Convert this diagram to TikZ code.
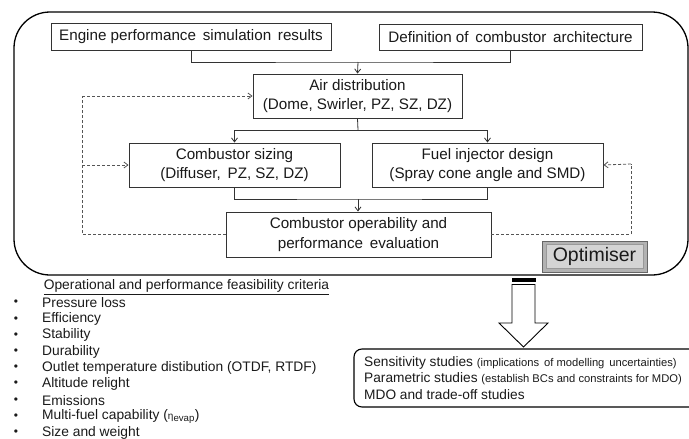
\documentclass[tikz,border=0pt]{standalone}
\usepackage{fontspec}
\setmainfont{Liberation Sans}
\usetikzlibrary{arrows.meta}
\definecolor{ln}{HTML}{333333}
\definecolor{dl}{HTML}{555555}
\definecolor{tx}{HTML}{1A1A1A}
\begin{document}
\begin{tikzpicture}[x=1pt,y=-1pt,
  box/.style={draw=ln, line width=0.9pt, fill=white, inner sep=0pt, align=center, text=tx,
    font=\fontsize{15.2}{19.5}\selectfont},
  conn/.style={draw=ln, line width=0.8pt},
  arr/.style={conn, -{Straight Barb[length=4pt,width=6pt]}},
  fb/.style={draw=dl, line width=0.8pt, dash pattern=on 3pt off 2pt, -{Straight Barb[length=4pt,width=6pt]}},
  fbl/.style={draw=dl, line width=0.8pt, dash pattern=on 3pt off 2pt},
  crit/.style={anchor=west, inner sep=0pt, text=tx, font=\fontsize{13.8}{16}\selectfont},
  bul/.style={inner sep=0pt, text=tx, font=\fontsize{12}{14}\selectfont},
  res/.style={anchor=west, inner sep=0pt, text=tx, font=\fontsize{13.7}{16}\selectfont}
]
\useasboundingbox (0,0) rectangle (689,439);
% outer frame
\draw[line width=1.3pt, rounded corners=36pt] (14,12) rectangle (688,275);

% boxes
\node[box, minimum width=280pt, minimum height=27pt] (eng) at (191,36.5) {Engine performance\, simulation\, results};
\node[box, minimum width=263pt, minimum height=26pt] (def) at (510.5,37) {Definition of\, combustor\, architecture};
\node[box, minimum width=209pt, minimum height=44pt] (air) at (357.5,96) {Air distribution\\(Dome, Swirler, PZ, SZ, DZ)};
\node[box, minimum width=211pt, minimum height=44pt] (siz) at (234.5,165) {Combustor sizing\\(Diffuser,\, PZ, SZ, DZ)};
\node[box, minimum width=231pt, minimum height=44pt] (fuel) at (487.5,165) {Fuel injector design\\(Spray cone angle and SMD)};
\node[box, minimum width=265pt, minimum height=45pt] (eval) at (358.5,234.5) {Combustor operability and\\performance\, evaluation};

% optimiser
\node[draw=black!60, line width=0.8pt, fill=black!30, minimum width=105pt, minimum height=31pt, inner sep=0pt] (optb) at (594.5,256.5) {};
\node[draw=black!40, line width=0.6pt, fill=black!17, minimum width=97pt, minimum height=24pt, inner sep=0pt,
  text=tx, font=\fontsize{19.5}{22}\selectfont] (opt) at (optb.center) {Optimiser};

% solid connectors
\coordinate (j1) at (358,62);
\coordinate (j2) at (358,130);
\coordinate (j3) at (358,199);
\draw[conn] (eng.south) |- (j1) -| (def.south);
\draw[arr] (j1) -- (air.north);
\draw[conn] (air.south) -- (j2);
\draw[arr] (j2) -| (siz.north);
\draw[arr] (j2) -| (fuel.north);
\draw[conn] (siz.south) |- (j3) -| (fuel.south);
\draw[arr] (j3) -- (j3 |- eval.north);

% dashed feedback
\coordinate (dl1) at (82,234.5);
\coordinate (dl2) at (82,96);
\coordinate (dl3) at (82,165);
\coordinate (dr1) at (631,234.5);
\coordinate (dr2) at (631,164);
\draw[fbl] (eval.west) -- (dl1) -- (dl2);
\draw[fb] (dl2) -- (air.west);
\draw[fb] (dl3) -- (siz.west);
\draw[fbl] (eval.east) -- (dr1) -- (dr2);
\draw[fb] (dr2) -- (fuel.east);

% block arrow
\draw[line width=0.9pt, fill=white] (512,284.5) -- (512,323) -- (499,323) -- (523.5,347) -- (548,323) -- (535,323) -- (535,284.5) -- cycle;
\fill (511.5,277.5) rectangle (535.5,281.5);

% results box
\draw[line width=1.1pt, rounded corners=8pt] (354,349) rectangle (698,407);
\node[res] (r1) at (364,363)
  {Sensitivity studies {\fontsize{11.2}{13}\selectfont (implications\, of modelling\, uncertainties)}};
\node[res] (r2) at (364,379)
  {Parametric studies {\fontsize{11.2}{13}\selectfont (establish BCs and constraints for MDO)}};
\node[res] (r3) at (364,395)
  {MDO and trade-off studies};

% criteria
\node[inner sep=0pt, text=tx, font=\fontsize{13.8}{16}\selectfont] (ct) at (186.5,287)
  {\underline{Operational and performance feasibility criteria}};
\foreach \t [count=\i] in {Pressure loss, Efficiency, Stability, Durability,
  {Outlet temperature distibution (OTDF, RTDF)}, Altitude relight, Emissions,
  {Multi-fuel capability ({\fontsize{10}{12}\selectfont η}\textsubscript{evap})}, Size and weight} {
  \node[crit] (c\i) at (42,{303+16.2*(\i-1)}) {\t};
  \node[bul] (b\i) at (16,{303+16.2*(\i-1)}) {•};
}
\end{tikzpicture}
\end{document}
